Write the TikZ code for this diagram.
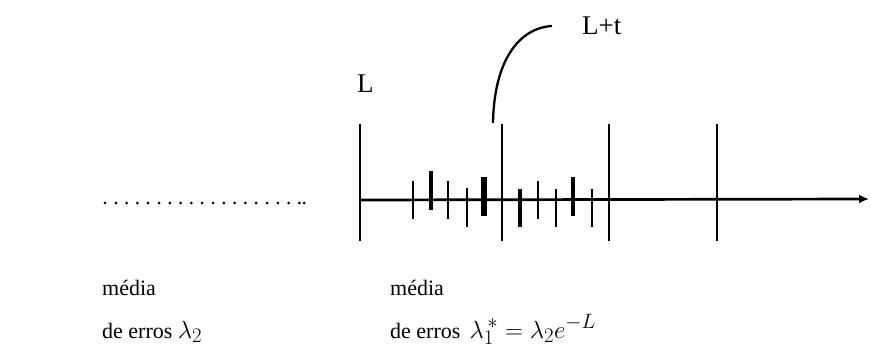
\documentclass[tikz,border=0pt]{standalone}
\usepackage{fontspec}
\setmainfont{Liberation Serif}
\usetikzlibrary{arrows.meta}
\newcommand{\mylargemath}[1]{{\fontsize{29}{32}\selectfont$#1$}}
\begin{document}
\begin{tikzpicture}[x=1pt,y=-1pt,
  bigtick/.style={line width=2.3pt},
  smalltick/.style={line width=2.6pt},
  lbl/.style={inner sep=0pt,anchor=base west,font=\fontsize{27}{30}\selectfont},
  txt/.style={inner sep=0pt,anchor=base west,font=\fontsize{22}{26}\selectfont}]
\useasboundingbox (0,0) rectangle (870,363);
% axis
\coordinate (a0) at (360,200);
\coordinate (a1) at (869,199);
\draw[line width=2.7pt,-{Latex[length=10pt,width=9pt]}] (a0) -- (a1);
% dotted part
\coordinate (d0) at (105,203);
\coordinate (d1) at (300,203);
\draw[line width=3pt,line cap=round,dash pattern=on 0pt off 10.8pt] (d0) -- (d1);
\fill (304,203) circle (1.5pt);
% big ticks
\foreach \x in {360,502,609,717}{
  \draw[bigtick] (\x,124) -- (\x,241);
}
% small ticks
\draw[smalltick] (413,181) -- (413,219);
\draw[line width=4pt] (431,171) -- (431,210);
\draw[smalltick] (448,181) -- (448,219);
\draw[smalltick] (467,188) -- (467,227);
\draw[line width=5.5pt] (484,177) -- (484,216);
\draw[line width=3.4pt] (520,189) -- (520,227);
\draw[smalltick] (538,181) -- (538,219);
\draw[smalltick] (556,189) -- (556,227);
\draw[line width=3.4pt] (573,177) -- (573,216);
\draw[smalltick] (592,189) -- (592,227);
% labels
\node[lbl] (L) at (357,93) {L};
\node[lbl] (Lt) at (582,35) {L+t};
\coordinate (c0) at (493,123);
\coordinate (c1) at (552,26);
\draw[line width=2.3pt] (c0) .. controls (494,62) and (518,28) .. (c1);
% bottom texts
\node[txt] (m1) at (102,296) {média};
\node[txt] (e1) at (102,338) {de erros \mylargemath{\lambda_2}};
\node[txt] (m2) at (390,296) {média};
\node[txt] (e2) at (390,338) {de erros \,\mylargemath{\lambda_1^{\,*}=\lambda_2e^{-L}}};
\end{tikzpicture}
\end{document}
